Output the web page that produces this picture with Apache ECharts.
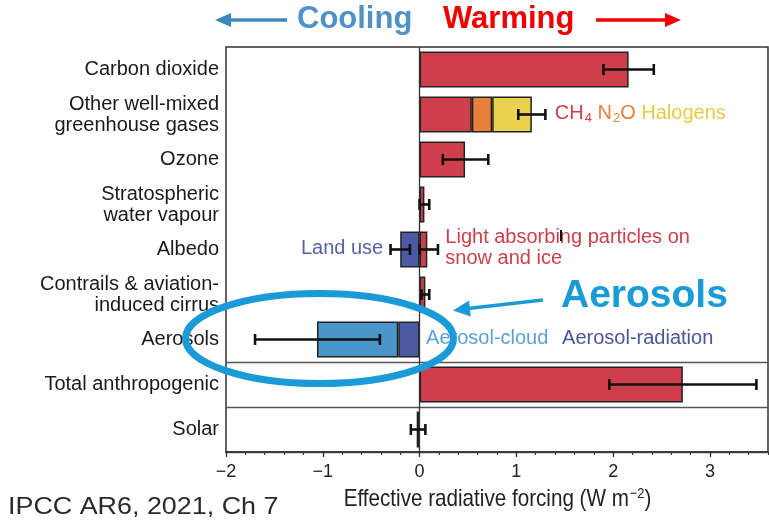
<!DOCTYPE html>
<html><head><meta charset="utf-8">
<script src="https://cdn.jsdelivr.net/npm/echarts@6/dist/echarts.min.js"></script>
<style>html,body{margin:0;padding:0;background:#fff}#c{width:769px;height:522px}</style>
</head><body><div id="c"></div>
<script>
// ---- data ----
const categories = ['Carbon dioxide', 'Other well-mixed\ngreenhouse gases', 'Ozone',
  'Stratospheric\nwater vapour', 'Albedo', 'Contrails & aviation-\ninduced cirrus',
  'Aerosols', 'Total anthropogenic', 'Solar'];
const redMain          = [2.16, 0.54, 0.47, 0.05, 0.08, 0.06, '-', 2.72, '-'];
const n2o              = ['-', 0.21, '-', '-', '-', '-', '-', '-', '-'];
const halogens         = ['-', 0.41, '-', '-', '-', '-', '-', '-', '-'];
const landUse          = ['-', '-', '-', '-', -0.20, '-', '-', '-', '-'];
const aerosolRadiation = ['-', '-', '-', '-', '-', '-', -0.22, '-', '-'];
const aerosolCloud     = ['-', '-', '-', '-', '-', '-', -0.84, '-', '-'];
const solar            = ['-', '-', '-', '-', '-', '-', '-', '-', -0.03];
// [low, high, category index]
const errorBars = [[1.90, 2.42, 0], [1.02, 1.30, 1], [0.24, 0.71, 2], [0.00, 0.10, 3],
  [-0.30, -0.10, 4], [0.00, 0.19, 4], [0.02, 0.10, 5], [-1.70, -0.41, 6],
  [1.96, 3.48, 7], [-0.09, 0.06, 8]];
const xTicks = [-2, -1, 0, 1, 2, 3];
const xMin = -2, xMax = 3.6;

// ---- styles ----
const C = { red: '#CE3F4B', orange: '#E8803A', yellow: '#EBD24E', lblue: '#4A95C9', dblue: '#4B5AA2' };
const sans = "'Liberation Sans',Arial,Helvetica,sans-serif";
const edge = { borderColor: '#222', borderWidth: 1.5 };

function barSeries(name, data, color, extra) {
  return Object.assign({
    name, type: 'bar', stack: 'erf', data, barWidth: '80%',
    itemStyle: Object.assign({ color }, edge), silent: true, z: 3
  }, extra || {});
}

// annotation anchors derived from data
const wmTotal = redMain[1] + n2o[1] + halogens[1];
const annotations = [[wmTotal, 1], [redMain[4], 4], [landUse[4], 4], [0, 6], [0, 6]];

const chart = echarts.init(document.getElementById('c'), null, { renderer: 'canvas' });
chart.setOption({
  animation: false,
  grid: { left: 226, right: 1, top: 47, bottom: 70, show: true, borderColor: '#333', borderWidth: 1.5,
    backgroundColor: 'transparent', containLabel: false, outerBoundsMode: 'none' },
  xAxis: [{
    type: 'value', min: xMin, max: xMax, position: 'bottom',
    axisLine: { show: true, lineStyle: { color: '#333', width: 1.5 } },
    axisTick: { show: true, customValues: xTicks, length: 5, lineStyle: { color: '#333', width: 1.3 } },
    axisLabel: { customValues: xTicks, fontSize: 18, margin: 11, color: '#222', fontFamily: sans,
      formatter: v => (v < 0 ? '\u2212' + Math.abs(v) : String(v)) },
    splitLine: { show: false }
  }, {
    type: 'value', min: xMin, max: xMax, interval: 0.2, position: 'bottom',
    axisLine: { show: false }, axisLabel: { show: false }, splitLine: { show: false },
    axisTick: { show: true, length: 3, lineStyle: { color: '#333', width: 1.1 } }
  }],
  yAxis: {
    type: 'category', data: categories, inverse: true,
    axisLine: { show: false }, axisTick: { show: false },
    axisLabel: { fontSize: 20, color: '#1a1a1a', margin: 7, lineHeight: 21, fontFamily: sans, align: 'right' },
    splitLine: { show: true, interval: (i) => i === 7 || i === 8, lineStyle: { color: '#555', width: 1.3 } }
  },
  series: [
    barSeries('red', redMain, C.red, {
      markLine: { silent: true, symbol: 'none', label: { show: false }, z: 5,
        lineStyle: { color: '#333', width: 1.3, type: 'solid' }, data: [{ xAxis: 0 }] }
    }),
    barSeries('N2O', n2o, C.orange),
    barSeries('Halogens', halogens, C.yellow),
    barSeries('Land use', landUse, C.dblue),
    barSeries('Aerosol-radiation', aerosolRadiation, C.dblue),
    barSeries('Aerosol-cloud', aerosolCloud, C.lblue),
    barSeries('Solar', solar, '#222'),
    {
      type: 'custom', name: 'errors', data: errorBars, z: 10, silent: true,
      encode: { x: [0, 1], y: 2 },
      renderItem: (params, api) => {
        const c = api.value(2);
        const lo = api.coord([api.value(0), c]);
        const hi = api.coord([api.value(1), c]);
        const h = 5.5, st = { stroke: '#111', lineWidth: 2.6 };
        return { type: 'group', children: [
          { type: 'line', shape: { x1: lo[0], y1: lo[1], x2: hi[0], y2: hi[1] }, style: st },
          { type: 'line', shape: { x1: lo[0], y1: lo[1] - h, x2: lo[0], y2: lo[1] + h }, style: st },
          { type: 'line', shape: { x1: hi[0], y1: hi[1] - h, x2: hi[0], y2: hi[1] + h }, style: st }
        ] };
      }
    },
    {
      type: 'custom', name: 'annotations', data: annotations, z: 12, silent: true,
      encode: { x: 0, y: 1 },
      renderItem: (params, api) => {
        const p = api.coord([api.value(0), api.value(1)]);
        const i = params.dataIndex;
        const f = '20px ' + sans;
        if (i === 0) {
          return { type: 'text', x: p[0] + 23, y: p[1] - 1, style: {
            text: '{r|CH}{rs|4}{o| N}{os|2}{o|O}{y| Halogens}', align: 'left', verticalAlign: 'middle',
            rich: {
              r: { fill: C.red, fontSize: 20, fontFamily: sans, lineHeight: 24 },
              rs: { fill: C.red, fontSize: 13, fontFamily: sans, lineHeight: 13, padding: [9, 0, 0, 1] },
              o: { fill: C.orange, fontSize: 20, fontFamily: sans, lineHeight: 24 },
              os: { fill: C.orange, fontSize: 13, fontFamily: sans, lineHeight: 13, padding: [9, 0, 0, 1] },
              y: { fill: '#E6CC45', fontSize: 20, fontFamily: sans, lineHeight: 24 }
            } } };
        }
        if (i === 1) {
          return { type: 'text', x: p[0] + 18, y: p[1] - 1.5, style: {
            text: 'Light absorbing particles on\nsnow and ice', font: f, fill: C.red,
            align: 'left', verticalAlign: 'middle', lineHeight: 21 } };
        }
        if (i === 2) {
          return { type: 'text', x: p[0] - 17, y: p[1] - 1.5, style: {
            text: 'Land use', font: f, fill: '#5861A8', align: 'right', verticalAlign: 'middle' } };
        }
        if (i === 3) {
          return { type: 'text', x: p[0] + 6.5, y: p[1] - 1.5, style: {
            text: 'Aerosol-cloud', font: f, fill: '#5AA2D3', align: 'left', verticalAlign: 'middle' } };
        }
        return { type: 'text', x: p[0] + 142.5, y: p[1] - 1.5, style: {
          text: 'Aerosol-radiation', font: f, fill: '#4B5598', align: 'left', verticalAlign: 'middle' } };
      }
    }
  ],
  graphic: [
    // header
    { type: 'line', shape: { x1: 287, y1: 20, x2: 228, y2: 20 }, style: { stroke: '#3F88BD', lineWidth: 3.5 }, z: 50 },
    { type: 'polygon', shape: { points: [[215, 20], [231, 13], [231, 27]] }, style: { fill: '#3F88BD' }, z: 50 },
    { type: 'text', x: 297, y: 19.5, style: { text: 'Cooling', font: 'bold 31px ' + sans, fill: '#5091C8', align: 'left', verticalAlign: 'middle' }, z: 50 },
    { type: 'text', x: 443, y: 19.5, style: { text: 'Warming', font: 'bold 31px ' + sans, fill: '#F20000', align: 'left', verticalAlign: 'middle' }, z: 50 },
    { type: 'line', shape: { x1: 596, y1: 20, x2: 668, y2: 20 }, style: { stroke: '#F20000', lineWidth: 3.5 }, z: 50 },
    { type: 'polygon', shape: { points: [[681, 20], [665, 13], [665, 27]] }, style: { fill: '#F20000' }, z: 50 },
    // stray tick mark in the original
    { type: 'line', shape: { x1: 561, y1: 230, x2: 561, y2: 241 }, style: { stroke: '#111', lineWidth: 2 }, z: 50 },
    // x-axis title (condensed look)
    { type: 'text', x: 497.5, y: 499, scaleX: 0.86, style: {
        text: '{t|Effective radiative forcing (W m}{s|\u22122}{t|)}', align: 'center', verticalAlign: 'middle',
        rich: {
          t: { fontSize: 24, fontFamily: sans, fill: '#222', lineHeight: 26 },
          s: { fontSize: 15, fontFamily: sans, fill: '#222', lineHeight: 15, padding: [0, 0, 10, 1] }
        } }, z: 50 },
    // Aerosols callout
    { type: 'ellipse', shape: { cx: 319.5, cy: 338.5, rx: 134, ry: 45 }, style: { fill: 'none', stroke: '#1A9BD7', lineWidth: 7 }, z: 100 },
    { type: 'line', shape: { x1: 543, y1: 300, x2: 468, y2: 308.6 }, style: { stroke: '#1A9BD7', lineWidth: 3.5 }, z: 100 },
    { type: 'polygon', shape: { points: [[453, 310.5], [470.8, 316.4], [469.0, 300.6]] }, style: { fill: '#1A9BD7' }, z: 100 },
    { type: 'text', x: 561, y: 296, style: { text: 'Aerosols', font: 'bold 39px ' + sans, fill: '#1A9BD7', align: 'left', verticalAlign: 'middle' }, z: 100 },
    // source
    { type: 'text', x: 8, y: 507.5, scaleX: 1.12, style: { text: 'IPCC AR6, 2021, Ch 7', font: '24px ' + sans, fill: '#2a2a2a', align: 'left', verticalAlign: 'middle' }, z: 50 }
  ]
});
</script></body></html>
